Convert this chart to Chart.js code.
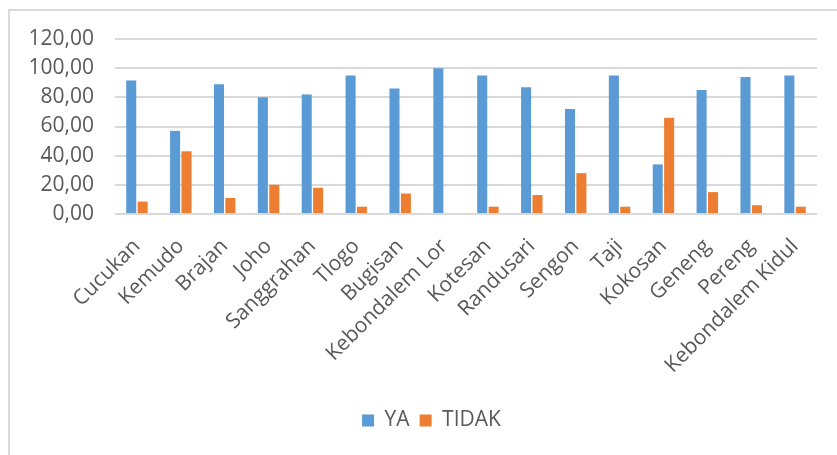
<!DOCTYPE html>
<html>
<head>
<meta charset="utf-8">
<script src="https://cdn.jsdelivr.net/npm/chart.js@4/dist/chart.umd.min.js"></script>
<style>
  html, body { margin: 0; padding: 0; background: #ffffff; }
  #wrap { position: relative; width: 837px; height: 455px; }
  #frame { position: absolute; left: 8px; top: 9px; right: 0; bottom: 0;
           border-top: 2px solid #D9D9D9; border-left: 2px solid #D9D9D9; pointer-events: none; }
  canvas { position: absolute; left: 0; top: 0; }
</style>
</head>
<body>
<div id="wrap">
  <canvas id="chart" width="837" height="455"></canvas>
  <div id="frame"></div>
</div>
<script>
// Villages
const categories = [
  'Cucukan', 'Kemudo', 'Brajan', 'Joho', 'Sanggrahan', 'Tlogo', 'Bugisan',
  'Kebondalem Lor', 'Kotesan', 'Randusari', 'Sengon', 'Taji', 'Kokosan',
  'Geneng', 'Pereng', 'Kebondalem Kidul'
];

// Percentage answering YA / TIDAK per village
const yaValues = [91.5, 57, 89, 80, 82, 95, 86, 100, 95, 87, 72, 95, 34, 85, 94, 95];
const tidakValues = [8.5, 43, 11, 20, 18, 5, 14, 0, 5, 13, 28, 5, 66, 15, 6, 5];

const seriesNames = ['YA', 'TIDAK'];
const yTicks = [0, 20, 40, 60, 80, 100, 120];

const FONT = '"Open Sans", "DejaVu Sans", sans-serif';
const TEXT = '#595959';

// Centre the legend under the whole chart frame rather than the padded area
const legendShift = {
  id: 'legendShift',
  afterLayout(chart) {
    if (chart.legend) chart.legend.left += 46;
  }
};

new Chart(document.getElementById('chart'), {
  type: 'bar',
  data: {
    labels: categories,
    datasets: [
      { label: seriesNames[0], data: yaValues, backgroundColor: '#5B9BD5',
        borderColor: '#ffffff', borderWidth: 0 },
      { label: seriesNames[1], data: tidakValues, backgroundColor: '#ED7D31',
        borderColor: '#ffffff', borderWidth: 0 }
    ]
  },
  plugins: [legendShift],
  options: {
    responsive: false,
    animation: false,
    layout: { padding: { left: 0, right: 20, top: 39, bottom: 14 } },
    datasets: { bar: { categoryPercentage: 0.52, barPercentage: 0.88 } },
    plugins: {
      tooltip: { enabled: false },
      legend: {
        position: 'bottom',
        labels: {
          color: TEXT,
          font: { family: FONT, size: 21 },
          boxWidth: 12, boxHeight: 12,
          padding: 10
        }
      }
    },
    scales: {
      x: {
        grid: { display: false },
        border: { display: false },
        ticks: {
          color: TEXT,
          font: { family: FONT, size: 21 },
          minRotation: 45, maxRotation: 45,
          autoSkip: false,
          padding: 12
        },
        afterFit(scale) { scale.height = 186; }
      },
      y: {
        min: 0, max: 120,
        afterBuildTicks(scale) { scale.ticks = yTicks.map(v => ({ value: v })); },
        grid: { color: '#D9D9D9', lineWidth: 2, drawTicks: false },
        border: { display: false },
        ticks: {
          color: TEXT,
          font: { family: FONT, size: 21 },
          padding: 21,
          callback: v => v.toFixed(2).replace('.', ',')
        },
        afterFit(scale) { scale.width = 115; }
      }
    }
  }
});
</script>
</body>
</html>
